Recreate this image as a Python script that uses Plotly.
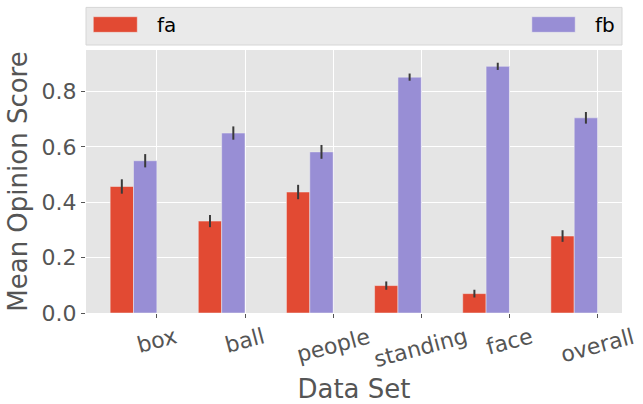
import plotly.graph_objects as go

categories = ["box", "ball", "people", "standing", "face", "overall"]
fa_values = [0.457, 0.332, 0.437, 0.099, 0.070, 0.278]
fa_errors = [0.026, 0.022, 0.026, 0.015, 0.014, 0.021]
fb_values = [0.550, 0.650, 0.582, 0.852, 0.891, 0.705]
fb_errors = [0.024, 0.024, 0.025, 0.013, 0.013, 0.021]
yticks = [0.0, 0.2, 0.4, 0.6, 0.8]

FA_COLOR = "#E24A33"
FB_COLOR = "#988ED5"
GRAY = "#555555"
FONT = "DejaVu Sans"
W = 0.265

xs = list(range(len(categories)))

fig = go.Figure()
for vals, errs, color, name, off in [
    (fa_values, fa_errors, FA_COLOR, "fa", -2 * W),
    (fb_values, fb_errors, FB_COLOR, "fb", -W),
]:
    fig.add_trace(go.Bar(
        x=xs, y=vals, name=name, width=W, offset=off,
        marker=dict(color=color, line=dict(color="#EEEEEE", width=0.5)),
        error_y=dict(type="data", array=errs, visible=True, color="#3a3a3a",
                     thickness=2, width=0),
        showlegend=False,
    ))

fig.update_layout(
    width=643, height=404,
    margin=dict(l=86, r=20.5, t=50, b=90.7),
    paper_bgcolor="white", plot_bgcolor="#E5E5E5",
    barmode="overlay",
    font=dict(family=FONT, color=GRAY),
    xaxis=dict(
        range=[-0.804, 5.277], tickvals=xs, showticklabels=False, automargin=False,
        ticks="outside", ticklen=4, tickwidth=1, tickcolor=GRAY,
        showgrid=True, gridcolor="white", gridwidth=1, zeroline=False,
        title=dict(text="Data Set", font=dict(size=26, color=GRAY), standoff=62),
    ),
    yaxis=dict(
        range=[0, 0.95], tickvals=yticks, ticktext=[f"{v:.1f}" for v in yticks],
        automargin=False,
        ticks="outside", ticklen=4, tickwidth=1, tickcolor=GRAY,
        tickfont=dict(size=22, color=GRAY),
        showgrid=True, gridcolor="white", gridwidth=1, zeroline=False,
        title=dict(text="Mean Opinion Score", font=dict(size=26, color=GRAY), standoff=6),
    ),
)

# rotated, centred category labels
for i, c in enumerate(categories):
    fig.add_annotation(
        x=i, y=0, xref="x", yref="paper", text=c, showarrow=False,
        textangle=-15, xanchor="center", yanchor="top", yshift=-8,
        font=dict(size=22, color=GRAY, family=FONT),
    )

# legend box (expanded across the axes, above the plot)
fig.add_shape(type="rect", xref="paper", yref="paper", x0=0, x1=1, y0=1.019, y1=1.162,
              fillcolor="#EAEAEA", line=dict(color="#D6D6D6", width=1), layer="above")
for name, color, px0, px1, tx in [
    ("fa", FA_COLOR, 0.0136, 0.0957, 0.1286),
    ("fb", FB_COLOR, 0.8318, 0.9127, 0.9456),
]:
    fig.add_shape(type="rect", xref="paper", yref="paper", x0=px0, x1=px1,
                  y0=1.0672, y1=1.1265, fillcolor=color, line=dict(color="#EEEEEE", width=0.5),
                  layer="above")
    fig.add_annotation(x=tx, y=1.0968, xref="paper", yref="paper", text=name,
                       showarrow=False, xanchor="left", yanchor="middle",
                       font=dict(size=20, color="black", family=FONT))

fig.write_html("out.html", config={"displayModeBar": False},
               post_script="document.body.style.margin='0px';document.body.style.overflow='hidden';")
